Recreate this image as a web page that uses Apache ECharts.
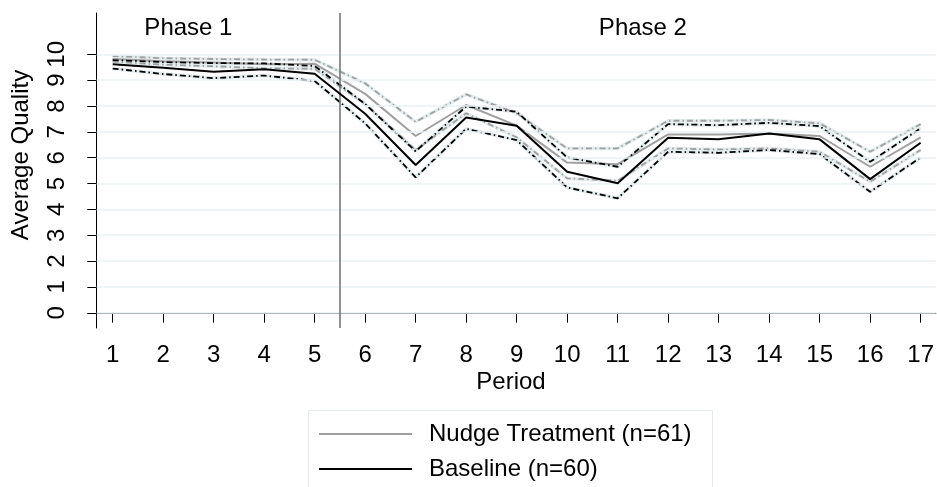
<!DOCTYPE html>
<html>
<head>
<meta charset="utf-8">
<script src="https://cdn.jsdelivr.net/npm/echarts@6/dist/echarts.min.js"></script>
<style>
html,body{margin:0;padding:0;background:#fff;}
#chart{width:937px;height:487px;}
</style>
</head>
<body>
<div id="chart"></div>
<script>
const periods = [1,2,3,4,5,6,7,8,9,10,11,12,13,14,15,16,17];
const yTicks = [0,1,2,3,4,5,6,7,8,9,10];
const phaseBreak = 5.5;
const phaseLabels = ['Phase 1', 'Phase 2'];
const phaseLabelX = [2.5, 11.5];
const phaseLabelY = 11;

const nudgeName = 'Nudge Treatment (n=61)';
const baseName = 'Baseline (n=60)';

const nudgeMean  = [9.82, 9.73, 9.68, 9.62, 9.64, 8.47, 6.84, 8.04, 7.24, 5.81, 5.75, 6.90, 6.90, 6.94, 6.84, 5.65, 6.79];
const nudgeUpper = [9.93, 9.85, 9.82, 9.80, 9.79, 8.88, 7.39, 8.45, 7.72, 6.36, 6.36, 7.43, 7.43, 7.46, 7.33, 6.23, 7.30];
const nudgeLower = [9.72, 9.60, 9.54, 9.46, 9.44, 8.08, 6.30, 7.72, 6.79, 5.20, 5.11, 6.36, 6.32, 6.36, 6.23, 5.07, 6.30];

const baseMean  = [9.62, 9.48, 9.33, 9.42, 9.25, 7.70, 5.72, 7.56, 7.24, 5.46, 5.01, 6.77, 6.71, 6.94, 6.71, 5.17, 6.58];
const baseUpper = [9.78, 9.70, 9.66, 9.65, 9.55, 8.08, 6.25, 7.98, 7.78, 6.01, 5.65, 7.30, 7.26, 7.35, 7.22, 5.84, 7.14];
const baseLower = [9.45, 9.24, 9.08, 9.18, 8.97, 7.33, 5.24, 7.12, 6.68, 4.85, 4.43, 6.23, 6.19, 6.30, 6.14, 4.68, 6.01];

const FONT = 'Liberation Sans, Arial, sans-serif';
const FS = 24;
const GRAY = '#a0a0a0';
const BLACK = '#000000';
const HALO = '#e4ecee';
const DASHDOT = [6, 3, 1.5, 3];

function pts(arr){ return periods.map((p,i)=>[p, arr[i]]); }

function haloSeries(arr, z){
  return {type:'line', data:pts(arr), showSymbol:false, silent:true, z:z,
    lineStyle:{color:HALO, width:3.5}, emphasis:{disabled:true}};
}
function ciSeries(arr, color, z){
  return {type:'line', data:pts(arr), showSymbol:false, silent:true, z:z,
    lineStyle:{color:color, width:1.8, type:DASHDOT}, emphasis:{disabled:true}};
}
function legendFor(name, top){
  return {data:[name], orient:'vertical', left:319, top:top, padding:0,
    itemWidth:93, itemHeight:2, icon:'rect', selectedMode:false,
    textStyle:{color:'#000', fontSize:FS, fontFamily:FONT, padding:[0,0,0,12]}};
}

const chart = echarts.init(document.getElementById('chart'), null, {renderer:'canvas'});

const option = {
  animation:false,
  backgroundColor:'#fff',
  grid:{left:96.7, top:13, right:0, bottom:159, containLabel:false},
  xAxis:{
    type:'value', min:0.684, max:17.30,
    axisLine:{show:true, lineStyle:{color:'#000', width:1}},
    axisTick:{show:true, length:10, customValues:periods, lineStyle:{color:'#000', width:1}},
    axisLabel:{show:true, customValues:periods, margin:15, color:'#000', fontSize:FS, fontFamily:FONT},
    splitLine:{show:false}
  },
  yAxis:{
    type:'value', min:-0.59, max:11.6,
    axisLine:{show:true, lineStyle:{color:'#000', width:1}},
    axisTick:{show:true, length:9.4, customValues:yTicks, lineStyle:{color:'#000', width:1}},
    axisLabel:{show:true, customValues:yTicks, rotate:90, margin:27, color:'#000', fontSize:FS, fontFamily:FONT},
    splitLine:{show:false}
  },
  legend:[legendFor(nudgeName, 422), legendFor(baseName, 457)],
  series:[
    {type:'line', data:pts(nudgeMean), showSymbol:false, silent:true, z:0,
      lineStyle:{opacity:0}, legendHoverLink:false,
      markLine:{silent:true, symbol:'none', label:{show:false}, animation:false,
        lineStyle:{color:'#eaf1f3', width:1.5, type:'solid'},
        data: yTicks.map(v=>({yAxis:v}))}},
    haloSeries(nudgeUpper, 1), haloSeries(nudgeLower, 1),
    haloSeries(baseUpper, 1), haloSeries(baseLower, 1),
    ciSeries(nudgeUpper, GRAY, 2), ciSeries(nudgeLower, GRAY, 2),
    {name:nudgeName, type:'line', data:pts(nudgeMean), showSymbol:false, z:3,
      color:GRAY, lineStyle:{color:GRAY, width:2}, emphasis:{disabled:true}},
    ciSeries(baseUpper, BLACK, 4), ciSeries(baseLower, BLACK, 4),
    {name:baseName, type:'line', data:pts(baseMean), showSymbol:false, z:5,
      color:BLACK, lineStyle:{color:BLACK, width:2}, emphasis:{disabled:true},
      markLine:{silent:true, symbol:'none', label:{show:false}, animation:false,
        lineStyle:{color:'#6e6e6e', width:1.5, type:'solid'},
        data:[{xAxis:phaseBreak}]}}
  ]
};
chart.setOption(option);

const gfx = phaseLabels.map((t,i)=>{
  const p = chart.convertToPixel({gridIndex:0}, [phaseLabelX[i], phaseLabelY]);
  return {type:'text', x:p[0], y:p[1], silent:true,
    style:{text:t, fill:'#000', fontSize:FS, fontFamily:FONT, align:'center', verticalAlign:'middle'}};
});
gfx.push({type:'text', x:21, y:155, rotation:Math.PI/2, silent:true,
  style:{text:'Average Quality', fill:'#000', fontSize:FS, fontFamily:FONT, align:'center', verticalAlign:'middle'}});
gfx.push({type:'text', x:511, y:382, silent:true,
  style:{text:'Period', fill:'#000', fontSize:FS, fontFamily:FONT, align:'center', verticalAlign:'middle'}});
gfx.push({type:'rect', silent:true, z:-1,
  shape:{x:308.5, y:410.5, width:404, height:90},
  style:{fill:'#fff', stroke:'#e4ebee', lineWidth:1}});
chart.setOption({graphic:gfx});
</script>
</body>
</html>
